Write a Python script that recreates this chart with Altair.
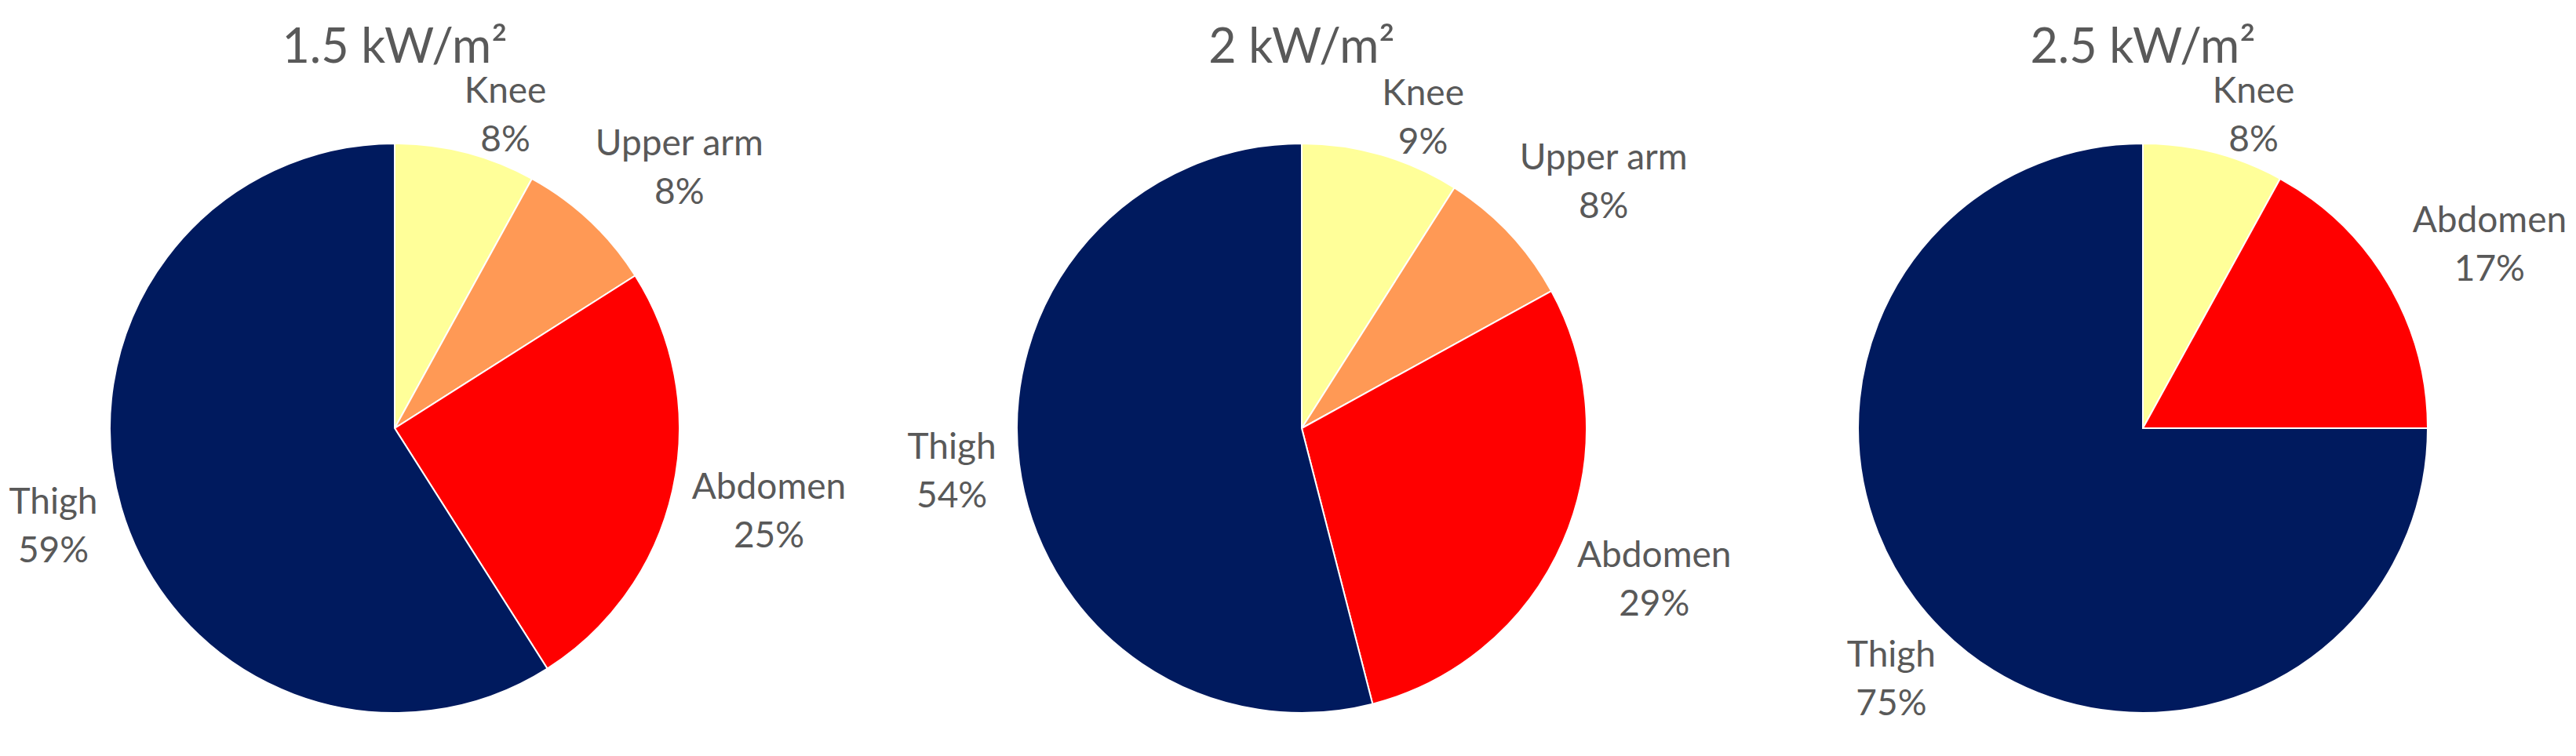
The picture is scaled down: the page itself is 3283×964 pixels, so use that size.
import altair as alt
import pandas as pd

# ---- data ----
titles = ["1.5 kW/m²", "2 kW/m²", "2.5 kW/m²"]
parts_1 = ["Knee", "Upper arm", "Abdomen", "Thigh"]
values_1 = [8, 8, 25, 59]
parts_2 = ["Knee", "Upper arm", "Abdomen", "Thigh"]
values_2 = [9, 8, 29, 54]
parts_3 = ["Knee", "Abdomen", "Thigh"]
values_3 = [8, 17, 75]

all_parts = ["Knee", "Upper arm", "Abdomen", "Thigh"]
colors = ["#FFFF99", "#FF9955", "#FF0000", "#001A5E"]

# ---- style / layout (pixels inside the view) ----
W, H = 3267, 948
centers_x = [495, 1651, 2723]
CENTER_Y = 538
TITLE_Y = 72
R = 363
FONT = "Lato"
LABEL_SIZE = 46
LINE_H = 62
GAP = 25
HALF_H = 35
TOP_DX = 33   # labels above the centre sit a little further right / lower
TOP_DY = 23
TEXT_COLOR = "#595959"

color_scale = alt.Scale(domain=all_parts, range=colors)

# rough text width of a label (em units per character class)
WIDTH_EXPR = (
    f"{LABEL_SIZE}*(0.55*(length(datum.part) - datum.nn - datum.nw)"
    " + 0.3*datum.nn + 0.85*datum.nw)"
)


def pie_layers(title, parts, values, cx):
    df = pd.DataFrame({
        "part": parts,
        "value": values,
        "ord": [all_parts.index(p) for p in parts],
    })
    base = (
        alt.Chart(df)
        .transform_joinaggregate(total="sum(value)")
        .transform_window(cum="sum(value)", sort=[alt.SortField("ord")], frame=[None, 0])
        .transform_calculate(
            mid="2*PI*(datum.cum - datum.value/2)/datum.total",
            nn="length(replace(datum.part, regexp('[^ilrtfj ]', 'g'), ''))",
            nw="length(replace(datum.part, regexp('[^mwMW]', 'g'), ''))",
        )
        .transform_calculate(w=WIDTH_EXPR)
        .transform_calculate(
            lr=f"{R}+{GAP}+abs(sin(datum.mid))*datum.w/2+abs(cos(datum.mid))*{HALF_H}",
            up="min(1, max(0, 1.3*cos(datum.mid)))",
            label="datum.part + '\\n' + datum.value + '%'",
        )
        .transform_calculate(
            lx=f"{cx} + datum.lr*sin(datum.mid) + {TOP_DX}*datum.up",
            ly=f"{CENTER_Y} - datum.lr*cos(datum.mid) + {TOP_DY}*datum.up",
        )
    )
    arc = base.mark_arc(outerRadius=R, stroke="white", strokeWidth=2).encode(
        theta=alt.Theta("value:Q", stack=True),
        color=alt.Color("part:N", scale=color_scale, legend=None),
        order=alt.Order("ord:Q"),
        x=alt.value(cx),
        y=alt.value(CENTER_Y),
    )
    text = base.mark_text(
        font=FONT, fontSize=LABEL_SIZE, color=TEXT_COLOR, lineBreak="\n",
        lineHeight=LINE_H, align="center", baseline="middle", dy=-LINE_H / 2,
    ).encode(
        x=alt.X("lx:Q", scale=None, axis=None),
        y=alt.Y("ly:Q", scale=None, axis=None),
        text="label:N",
    )
    head = alt.Chart(pd.DataFrame({"title": [title]})).mark_text(
        font=FONT, fontSize=61, color=TEXT_COLOR, align="center", baseline="alphabetic",
    ).encode(
        x=alt.value(cx),
        y=alt.value(TITLE_Y),
        text="title:N",
    )
    return [arc, text, head]


layers = (
    pie_layers(titles[0], parts_1, values_1, centers_x[0])
    + pie_layers(titles[1], parts_2, values_2, centers_x[1])
    + pie_layers(titles[2], parts_3, values_3, centers_x[2])
)

chart = alt.layer(*layers).properties(
    width=W,
    height=H,
    autosize=alt.AutoSizeParams(type="none"),
    padding=0,
    background="white",
).configure_view(stroke=None)

chart.save("out.html", embed_options={"renderer": "svg", "actions": False})
